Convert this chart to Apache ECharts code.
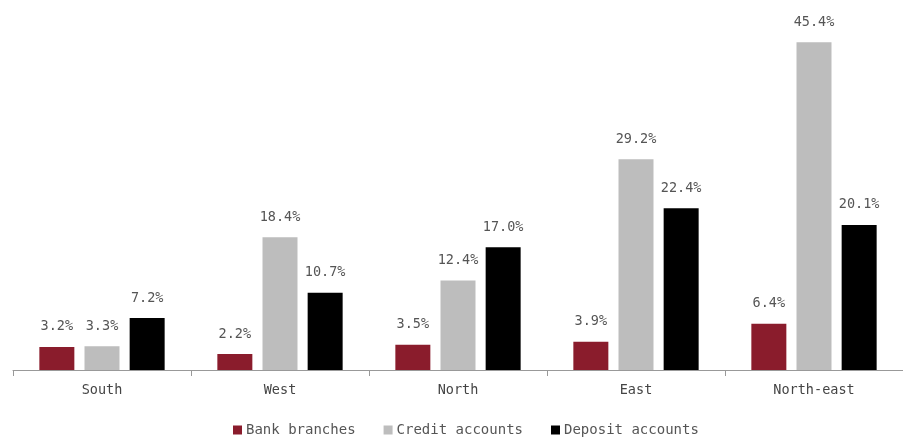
<!DOCTYPE html>
<html><head><meta charset="utf-8">
<script src="https://cdn.jsdelivr.net/npm/echarts@6/dist/echarts.min.js"></script>
<style>html,body{margin:0;padding:0;background:#fff}#c{width:903px;height:439px}</style>
</head><body><div id="c"></div>
<script>
const categories = ['South', 'West', 'North', 'East', 'North-east'];
const bankBranches = [3.2, 2.2, 3.5, 3.9, 6.4];
const creditAccounts = [3.3, 18.4, 12.4, 29.2, 45.4];
const depositAccounts = [7.2, 10.7, 17.0, 22.4, 20.1];
const seriesNames = ['Bank branches', 'Credit accounts', 'Deposit accounts'];

const font = 'DejaVu Sans Mono';
const label = {
  show: true, position: 'top', distance: 13, color: '#555', fontSize: 13.5, fontFamily: font,
  formatter: p => p.value.toFixed(1) + '%'
};
const chart = echarts.init(document.getElementById('c'));
chart.setOption({
  animation: false,
  grid: { left: 13, right: -3, top: 9, bottom: 69 },
  legend: {
    bottom: -3, left: 228, itemWidth: 9, itemHeight: 9, itemGap: 28,
    icon: 'rect', textStyle: { color: '#555', fontSize: 14, fontFamily: font, padding: [0, 0, 0, -1] }
  },
  xAxis: {
    type: 'category', data: categories,
    axisLine: { lineStyle: { color: '#999' } },
    axisTick: { show: true, length: 6, lineStyle: { color: '#999' } },
    axisLabel: { color: '#444', fontSize: 13.5, fontFamily: font, margin: 13 }
  },
  yAxis: { type: 'value', min: 0, max: 50, show: false, splitLine: { show: false } },
  series: [
    { name: seriesNames[0], type: 'bar', data: bankBranches, barWidth: 35, barGap: '29%', itemStyle: { color: '#8a1c2c' }, label },
    { name: seriesNames[1], type: 'bar', data: creditAccounts, barWidth: 35, barGap: '29%', itemStyle: { color: '#bdbdbd' }, label },
    { name: seriesNames[2], type: 'bar', data: depositAccounts, barWidth: 35, barGap: '29%', itemStyle: { color: '#000000' }, label }
  ]
});
</script></body></html>
